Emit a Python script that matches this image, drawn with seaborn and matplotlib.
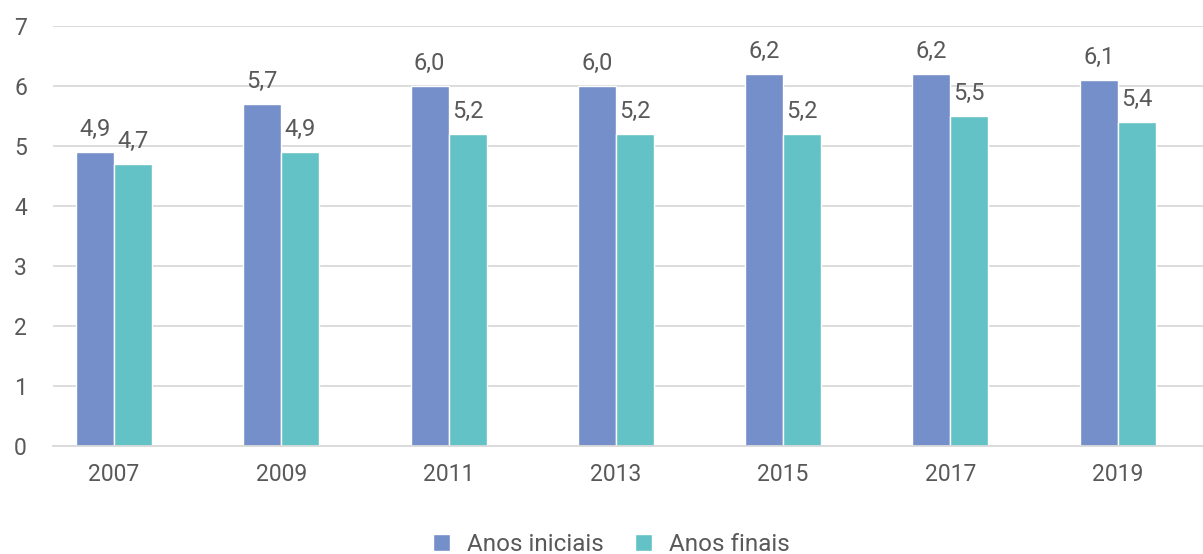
import pandas as pd
import matplotlib
matplotlib.use("Agg")
import matplotlib.pyplot as plt
import seaborn as sns
from matplotlib.patches import Patch

anos = ["2007", "2009", "2011", "2013", "2015", "2017", "2019"]
anos_iniciais = [4.9, 5.7, 6.0, 6.0, 6.2, 6.2, 6.1]
anos_finais = [4.7, 4.9, 5.2, 5.2, 5.2, 5.5, 5.4]
series = ["Anos iniciais", "Anos finais"]
cores = ["#758FCA", "#63C2C5"]

df = pd.DataFrame({
    "ano": anos * 2,
    "valor": anos_iniciais + anos_finais,
    "serie": [series[0]] * len(anos) + [series[1]] * len(anos),
})

sns.set_style("white")
plt.rcParams["font.family"] = ["Roboto", "DejaVu Sans"]
cinza = "#595959"

fig = plt.figure(figsize=(12.03, 5.54), dpi=100)
ax = fig.add_axes([53 / 1203, 108 / 554, 1150 / 1203, 420 / 554])

sns.barplot(data=df, x="ano", y="valor", hue="serie", palette=cores,
            width=0.454, gap=0, saturation=1, ax=ax, legend=False)

# rótulos com vírgula decimal
for cont in ax.containers:
    ax.bar_label(cont, labels=[f"{b.get_height():.1f}".replace(".", ",") for b in cont],
                 padding=8, fontsize=17, color=cinza)

ax.set_ylim(0, 7)
ax.set_xlim(-0.365, 6.51)
ax.set_yticks(range(0, 8))
ax.yaxis.grid(True, color="#D9D9D9", linewidth=1.3)
ax.set_axisbelow(True)
for s in ["top", "right", "left"]:
    ax.spines[s].set_visible(False)
ax.spines["bottom"].set_color("#D9D9D9")
ax.spines["bottom"].set_linewidth(1.3)
ax.set_xlabel("")
ax.set_ylabel("")
ax.tick_params(axis="both", length=0, labelsize=16.5, labelcolor=cinza)
ax.tick_params(axis="y", pad=28)
ax.tick_params(axis="x", pad=12)
for lbl in ax.get_yticklabels():
    lbl.set_horizontalalignment("left")

handles = [Patch(facecolor=c, label=s) for c, s in zip(cores, series)]
fig.legend(handles=handles, loc="center", bbox_to_anchor=(0.508, 0.018), ncol=2,
           frameon=False, fontsize=17.5, labelcolor=cinza, handlelength=0.7,
           handleheight=0.7, handletextpad=0.7, columnspacing=1.3)

fig.savefig("out.png", dpi=100)
